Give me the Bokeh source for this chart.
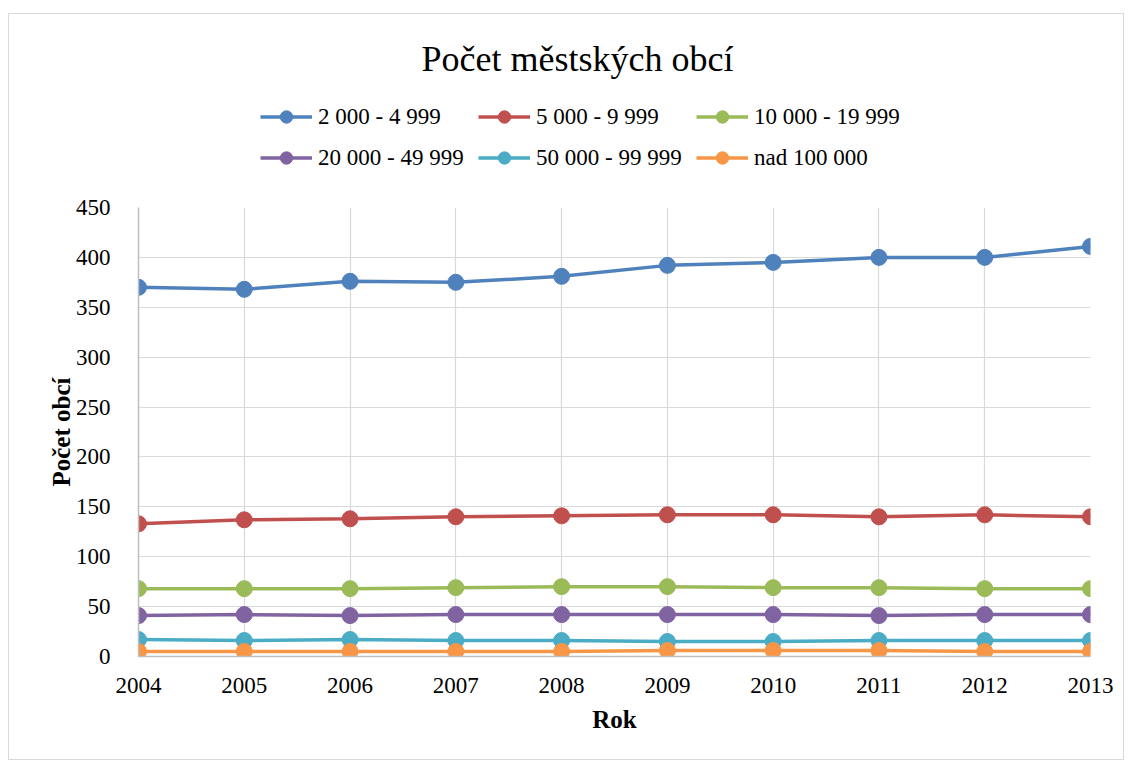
from bokeh.plotting import figure
from bokeh.models import Legend, LegendItem, FixedTicker, Label
from bokeh.layouts import column
from bokeh.embed import file_html
from bokeh.resources import INLINE

years = [2004, 2005, 2006, 2007, 2008, 2009, 2010, 2011, 2012, 2013]
s_2000_4999 = [370, 368, 376, 375, 381, 392, 395, 400, 400, 411]
s_5000_9999 = [133, 137, 138, 140, 141, 142, 142, 140, 142, 140]
s_10000_19999 = [68, 68, 68, 69, 70, 70, 69, 69, 68, 68]
s_20000_49999 = [41, 42, 41, 42, 42, 42, 42, 41, 42, 42]
s_50000_99999 = [17, 16, 17, 16, 16, 15, 15, 16, 16, 16]
s_nad_100000 = [5, 5, 5, 5, 5, 6, 6, 6, 5, 5]

labels = ["2 000 - 4 999", "5 000 - 9 999", "10 000 - 19 999",
          "20 000 - 49 999", "50 000 - 99 999", "nad 100 000"]
series = [s_2000_4999, s_5000_9999, s_10000_19999, s_20000_49999, s_50000_99999, s_nad_100000]
colors = ["#4F81BD", "#C0504D", "#9BBB59", "#8064A2", "#4BACC6", "#F79646"]
y_ticks = [0, 50, 100, 150, 200, 250, 300, 350, 400, 450]
title_text = "Počet městských obcí"

FONT = "Liberation Serif"
W = 1114

# ---------- header: title + legend (frame is aligned with the chart frame below) ----------
top = figure(width=W, height=181, output_backend="svg", toolbar_location=None,
             x_range=(0, 1), y_range=(0, 1), x_axis_type=None, y_axis_type=None,
             min_border=0)
top.outline_line_color = None
top.grid.visible = False
top.border_fill_color = "white"

top.add_layout(Label(x=439, y=137, x_units="screen", y_units="screen", text=title_text,
                     text_align="center", text_baseline="middle", text_font=FONT,
                     text_font_size="36px", text_color="#000000"))

# legend proxies: the real series, lying outside this header's (0..1) ranges
proxy_items = []
for lab, vals, col in zip(labels, series, colors):
    l = top.line(years, vals, line_color=col, line_width=3.5)
    c = top.scatter(years, vals, size=12, fill_color=col, line_color=col)
    proxy_items.append(LegendItem(label=lab, renderers=[l, c]))
order = [0, 3, 1, 4, 2, 5]
legend = Legend(items=[proxy_items[i] for i in order], ncols=3, location=(122, 22),
                glyph_width=52, glyph_height=31, label_height=31, label_width=150,
                label_standoff=6, spacing=10, padding=0, margin=0,
                border_line_color=None, background_fill_alpha=0,
                label_text_font=FONT, label_text_font_size="23px", label_text_color="#000000")
top.add_layout(legend, "center")

# ---------- main chart ----------
p = figure(width=W, height=564, output_backend="svg", toolbar_location=None,
           x_range=(2004, 2013), y_range=(0, 450),
           min_border_left=129, min_border_right=33, min_border_top=12, min_border_bottom=103)
p.outline_line_color = None
p.background_fill_color = "white"
p.border_fill_color = "white"

p.xaxis.ticker = FixedTicker(ticks=years)
p.yaxis.ticker = FixedTicker(ticks=y_ticks)
for ax in (p.xaxis[0], p.yaxis[0]):
    ax.major_tick_line_color = None
    ax.minor_tick_line_color = None
    ax.axis_line_color = "#bfbfbf"
    ax.axis_line_width = 1.5
    ax.major_label_text_font = FONT
    ax.major_label_text_font_size = "23px"
    ax.major_label_text_color = "#000000"
    ax.axis_label_text_font = FONT
    ax.axis_label_text_font_size = "25px"
    ax.axis_label_text_font_style = "bold"
    ax.axis_label_text_color = "#000000"
p.yaxis.major_label_standoff = 22
p.xaxis.major_label_standoff = 15
p.yaxis.axis_label = "Počet obcí"
p.xaxis.axis_label = "Rok"
p.yaxis.axis_label_standoff = -2
p.xaxis.axis_label_standoff = 10

p.xgrid.grid_line_color = "#d9d9d9"
p.ygrid.grid_line_color = "#d9d9d9"
p.xgrid.grid_line_width = 1.2
p.ygrid.grid_line_width = 1.2

for vals, col in zip(series, colors):
    p.line(years, vals, line_color=col, line_width=3.5)
    p.scatter(years, vals, size=16, fill_color=col, line_color=col)

layout = column(top, p, spacing=0)
layout.styles = {"border": "1px solid #d9d9d9", "margin-left": "8px", "margin-top": "13px",
                 "background-color": "white"}

open("out.html", "w").write(file_html(layout, INLINE))
